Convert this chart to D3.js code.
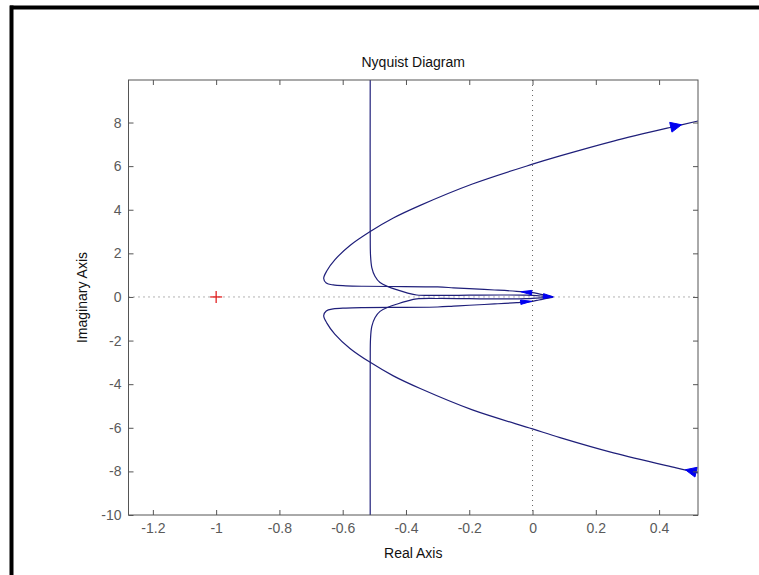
<!DOCTYPE html>
<html>
<head>
<meta charset="utf-8">
<script src="https://cdn.jsdelivr.net/npm/d3@7"></script>
<style>
  body { margin: 0; background: #fff; }
  text { font-family: "Liberation Sans", Arial, sans-serif; }
</style>
</head>
<body>
<svg id="svgPlot" width="759" height="575"></svg>
<script>
// axis limits and ticks
var xDomain = [-1.277, 0.523];
var yDomain = [-10, 9.95];
var xTicks = [-1.2, -1, -0.8, -0.6, -0.4, -0.2, 0, 0.2, 0.4];
var yTicks = [-10, -8, -6, -4, -2, 0, 2, 4, 6, 8];

// outer (parabola) branch, positive frequencies: from origin out to the top right
var outerUpper = [
    [0.062, 0.02], [0.04, 0.08], [0.02, 0.14], [0.0, 0.2], [-0.05, 0.26],
    [-0.12, 0.32], [-0.2, 0.38], [-0.25, 0.42], [-0.3, 0.46], [-0.45, 0.48],
    [-0.534, 0.49], [-0.59, 0.51], [-0.63, 0.55], [-0.652, 0.64], [-0.66, 0.85],
    [-0.65, 1.2], [-0.625, 1.7], [-0.577, 2.36], [-0.513, 3.0], [-0.44, 3.62],
    [-0.355, 4.2], [-0.19, 5.18], [0.0, 6.09], [0.087, 6.47], [0.256, 7.15],
    [0.454, 7.84], [0.523, 8.07]
];
// outer branch, negative frequencies: from the bottom right in to the origin
var outerLower = [
    [0.523, -8.07], [0.454, -7.84], [0.256, -7.15], [0.087, -6.45], [0.0, -6.05],
    [-0.19, -5.18], [-0.355, -4.2], [-0.44, -3.62], [-0.513, -3.0], [-0.577, -2.36],
    [-0.625, -1.7], [-0.65, -1.2], [-0.66, -0.85], [-0.652, -0.64], [-0.63, -0.55],
    [-0.59, -0.51], [-0.534, -0.49], [-0.45, -0.48], [-0.3, -0.46], [-0.25, -0.42],
    [-0.2, -0.38], [-0.12, -0.32], [-0.05, -0.26], [0.0, -0.2], [0.02, -0.14],
    [0.04, -0.08], [0.062, -0.02]
];
// inner branch with the vertical asymptote near -0.51
var innerUpper = [
    [-0.513, 10.6], [-0.513, 3.0], [-0.512, 1.9], [-0.508, 1.35], [-0.498, 0.95],
    [-0.482, 0.66], [-0.455, 0.46], [-0.425, 0.31], [-0.397, 0.19], [-0.366, 0.09],
    [-0.3, 0.07], [-0.2, 0.08], [-0.1, 0.09], [-0.02, 0.08], [0.03, 0.04], [0.065, 0.0]
];
var innerLower = [
    [0.065, 0.0], [0.03, -0.04], [-0.02, -0.08], [-0.1, -0.09], [-0.2, -0.08],
    [-0.3, -0.07], [-0.366, -0.09], [-0.397, -0.19], [-0.425, -0.31], [-0.455, -0.46],
    [-0.482, -0.66], [-0.498, -0.95], [-0.508, -1.35], [-0.512, -1.9], [-0.513, -3.0], [-0.513, -10.6]
];

// arrow heads: [branch, re, im, length px, half width px]
var arrows = [
    ['outerUpper', 0.454, 7.84, 11, 5],
    ['outerLower', 0.5, -7.98, 11, 5],
    ['outerUpper', -0.02, 0.22, 11, 2.2],
    ['outerLower', -0.02, -0.22, 11, 2.2],
    ['innerUpper', 0.05, 0.02, 10, 2.5]
];
var criticalPoint = [-1, 0];

var branches = {
    outerUpper: outerUpper, outerLower: outerLower,
    innerUpper: innerUpper, innerLower: innerLower
};

var svg = d3.select('#svgPlot');
var margin = {left: 128.5, right: 698, top: 80, bottom: 515};

var x = d3.scaleLinear().domain(xDomain).range([margin.left, margin.right]);
var y = d3.scaleLinear().domain(yDomain).range([margin.bottom, margin.top]);

svg.append('rect').attr('width', 759).attr('height', 575).style('fill', '#fff');

// black frame pieces of the screenshot
svg.append('rect').attr('x', 10).attr('y', 5.5).attr('width', 749).attr('height', 4).style('fill', '#000');
svg.append('rect').attr('x', 9.5).attr('y', 5.5).attr('width', 4).attr('height', 570).style('fill', '#000');

svg.append('clipPath').attr('id', 'plotClip')
    .append('rect')
    .attr('x', margin.left).attr('y', margin.top)
    .attr('width', margin.right - margin.left)
    .attr('height', margin.bottom - margin.top);

var plot = svg.append('g').attr('clip-path', 'url(#plotClip)');

// dotted zero lines
plot.append('line')
    .attr('x1', margin.left).attr('x2', margin.right)
    .attr('y1', y(0)).attr('y2', y(0))
    .style('stroke', '#666').style('stroke-width', 1).style('stroke-dasharray', '1,4');
plot.append('line')
    .attr('x1', x(0)).attr('x2', x(0))
    .attr('y1', margin.top).attr('y2', margin.bottom)
    .style('stroke', '#666').style('stroke-width', 1).style('stroke-dasharray', '1,4');

var line = d3.line()
    .x(function (d) { return x(d[0]); })
    .y(function (d) { return y(d[1]); })
    .curve(d3.curveCatmullRom.alpha(0.5));

Object.keys(branches).forEach(function (k) {
    plot.append('path')
        .datum(branches[k])
        .attr('d', line)
        .style('fill', 'none')
        .style('stroke', '#1f1f7a')
        .style('stroke-width', 1.2);
});

// arrow heads, pointing along the branch order
arrows.forEach(function (a) {
    var pts = branches[a[0]];
    var px = x(a[1]), py = y(a[2]);
    var best = 0, bestDist = Infinity;
    for (var i = 0; i < pts.length - 1; i++) {
        var mx = (x(pts[i][0]) + x(pts[i + 1][0])) / 2;
        var my = (y(pts[i][1]) + y(pts[i + 1][1])) / 2;
        var dd = (mx - px) * (mx - px) + (my - py) * (my - py);
        if (dd < bestDist) { bestDist = dd; best = i; }
    }
    var ang = Math.atan2(y(pts[best + 1][1]) - y(pts[best][1]), x(pts[best + 1][0]) - x(pts[best][0]));
    var len = a[3], hw = a[4];
    var c = Math.cos(ang), s = Math.sin(ang);
    var tip = [px + c * len / 2, py + s * len / 2];
    var b1 = [px - c * len / 2 - s * hw, py - s * len / 2 + c * hw];
    var b2 = [px - c * len / 2 + s * hw, py - s * len / 2 - c * hw];
    plot.append('path')
        .attr('d', 'M' + tip + 'L' + b1 + 'L' + b2 + 'Z')
        .style('fill', '#0000f0')
        .style('stroke', '#0000f0')
        .style('stroke-width', 1);
});

// critical point marker
var cp = svg.append('g').attr('transform', 'translate(' + x(criticalPoint[0]) + ',' + y(criticalPoint[1]) + ')');
cp.append('line').attr('x1', -6).attr('x2', 6).attr('y1', 0).attr('y2', 0).style('stroke', '#e01010').style('stroke-width', 1.2);
cp.append('line').attr('x1', 0).attr('x2', 0).attr('y1', -6).attr('y2', 6).style('stroke', '#e01010').style('stroke-width', 1.2);

// axes box and inward ticks on all sides
var axisColor = '#555';
svg.append('rect')
    .attr('x', margin.left).attr('y', margin.top)
    .attr('width', margin.right - margin.left)
    .attr('height', margin.bottom - margin.top)
    .style('fill', 'none').style('stroke', axisColor).style('stroke-width', 1);

var gx = svg.append('g').attr('transform', 'translate(0,' + margin.bottom + ')')
    .call(d3.axisBottom(x).tickValues(xTicks).tickSizeInner(-5).tickSizeOuter(0).tickPadding(8)
        .tickFormat(function (d) { return String(d); }));
var gxTop = svg.append('g').attr('transform', 'translate(0,' + margin.top + ')')
    .call(d3.axisTop(x).tickValues(xTicks).tickSizeInner(-5).tickSizeOuter(0).tickFormat(''));
var gy = svg.append('g').attr('transform', 'translate(' + margin.left + ',0)')
    .call(d3.axisLeft(y).tickValues(yTicks).tickSizeInner(-5).tickSizeOuter(0).tickPadding(7)
        .tickFormat(function (d) { return String(d); }));
var gyRight = svg.append('g').attr('transform', 'translate(' + margin.right + ',0)')
    .call(d3.axisRight(y).tickValues(yTicks).tickSizeInner(-5).tickSizeOuter(0).tickFormat(''));

[gx, gxTop, gy, gyRight].forEach(function (g) {
    g.select('.domain').remove();
    g.selectAll('line').style('stroke', axisColor);
    g.selectAll('text')
        .style('fill', '#5a5a5a')
        .style('font-size', '14px')
        .style('font-family', '"Liberation Sans", Arial, sans-serif');
});

// titles
svg.append('text')
    .attr('x', (margin.left + margin.right) / 2).attr('y', 67)
    .attr('text-anchor', 'middle')
    .style('font-size', '14px').style('fill', '#111')
    .text('Nyquist Diagram');
svg.append('text')
    .attr('x', (margin.left + margin.right) / 2).attr('y', 558)
    .attr('text-anchor', 'middle')
    .style('font-size', '14px').style('fill', '#111')
    .text('Real Axis');
svg.append('text')
    .attr('transform', 'translate(87,' + (margin.top + margin.bottom) / 2 + ') rotate(-90)')
    .attr('text-anchor', 'middle')
    .style('font-size', '14px').style('fill', '#111')
    .text('Imaginary Axis');
</script>
</body>
</html>
